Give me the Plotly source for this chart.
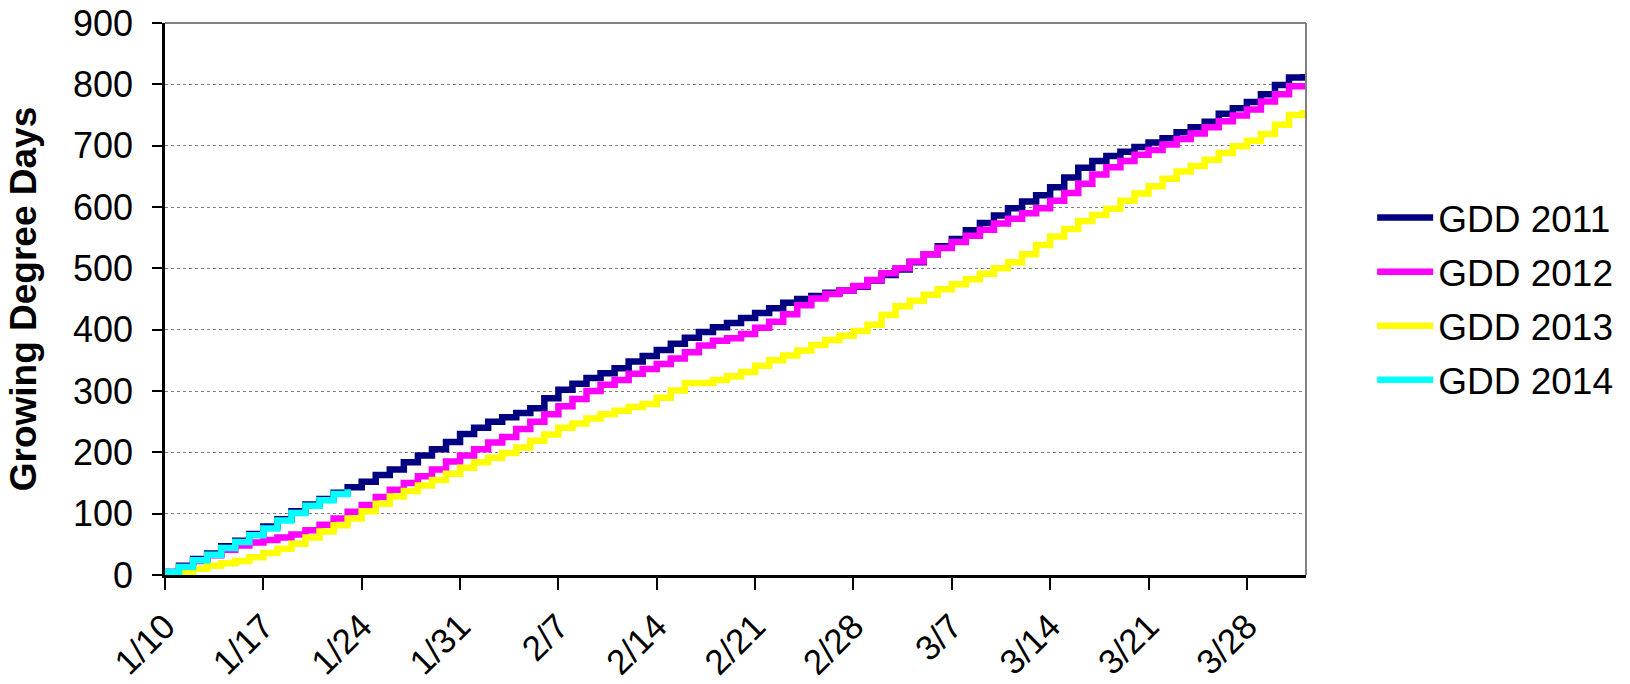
import pandas as pd
import plotly.graph_objects as go

# Daily cumulative GDD, starting 1/10
gdd_2011 = [5, 15, 26, 35, 47, 56, 67, 79, 91, 104, 115, 124, 134, 143, 152, 163, 172, 184, 195, 205,
            217, 230, 240, 250, 257, 264, 272, 288, 302, 312, 321, 329, 337, 348, 357, 367, 377, 387, 396, 404,
            411, 419, 427, 435, 444, 450, 455, 460, 464, 470, 480, 489, 498, 510, 523, 536, 548, 562, 574, 586,
            598, 609, 619, 632, 648, 664, 675, 683, 690, 698, 705, 712, 722, 730, 739, 752, 761, 771, 784, 799,
            811, 817]
gdd_2012 = [5, 13, 23, 32, 41, 48, 53, 57, 61, 66, 73, 82, 92, 103, 114, 127, 139, 150, 161, 172,
            185, 195, 205, 216, 225, 238, 250, 262, 275, 287, 300, 310, 318, 328, 336, 344, 353, 363, 374, 382,
            386, 393, 403, 413, 425, 440, 451, 458, 464, 471, 481, 492, 500, 511, 523, 533, 543, 553, 563, 573,
            581, 590, 598, 610, 623, 638, 653, 665, 675, 685, 693, 702, 711, 720, 730, 740, 749, 759, 772, 784,
            797, 802]
gdd_2013 = [0, 3, 10, 15, 19, 23, 29, 36, 43, 51, 61, 71, 81, 92, 104, 116, 128, 137, 146, 155,
            165, 175, 184, 191, 199, 208, 219, 229, 240, 247, 255, 262, 268, 274, 279, 289, 301, 313, 313, 318,
            324, 331, 341, 350, 358, 366, 375, 383, 390, 398, 408, 424, 438, 447, 457, 466, 474, 482, 491, 500,
            510, 523, 538, 552, 564, 577, 587, 597, 610, 622, 634, 646, 658, 667, 677, 688, 699, 708, 719, 734,
            750, 758]
gdd_2014 = [5, 13, 24, 33, 44, 54, 65, 76, 89, 101, 113, 122, 132, 140]

series_names = ["GDD 2011", "GDD 2012", "GDD 2013", "GDD 2014"]
series_colors = ["#000080", "#FF00FF", "#FFFF00", "#00FFFF"]
tick_labels = ["1/10", "1/17", "1/24", "1/31", "2/7", "2/14", "2/21", "2/28", "3/7", "3/14", "3/21", "3/28"]

dates = pd.date_range("2011-01-10", periods=len(gdd_2011), freq="D")
tick_dates = pd.date_range("2011-01-10", periods=len(tick_labels), freq="7D")

fig = go.Figure()
for name, vals, col in zip(series_names, [gdd_2011, gdd_2012, gdd_2013, gdd_2014], series_colors):
    fig.add_trace(go.Scatter(
        x=dates[:len(vals)], y=vals, mode="lines", name=name,
        line=dict(color=col, width=6.5, shape="hv"),
        legendgroup=name,
    ))

font_family = "Arial, Liberation Sans, sans-serif"
fig.update_layout(
    width=1630, height=684,
    margin=dict(l=165, r=321, t=23, b=109),
    paper_bgcolor="white", plot_bgcolor="white",
    font=dict(family=font_family, color="black"),
    legend=dict(x=1.058, xanchor="left", y=0.5, yanchor="middle",
                font=dict(size=37, family=font_family), tracegroupgap=3,
                itemwidth=56, bgcolor="rgba(0,0,0,0)"),
    showlegend=True,
)
fig.update_xaxes(
    type="date", automargin=False, ticklabeloverflow="allow",
    range=["2011-01-10", "2011-04-01 05:00"],
    tickvals=tick_dates, ticktext=tick_labels, tickangle=-45,
    tickfont=dict(size=35), ticks="outside", ticklen=12, tickwidth=2, tickcolor="black",
    ticklabelstandoff=2,
    showline=True, linecolor="black", linewidth=2.5, showgrid=False, zeroline=False,
)
fig.update_yaxes(
    range=[0, 900], dtick=100, tick0=0, automargin=False, ticklabeloverflow="allow",
    tickfont=dict(size=36), ticks="outside", ticklen=10, tickwidth=2, tickcolor="black",
    ticklabelstandoff=12,
    showline=True, linecolor="black", linewidth=2.5,
    showgrid=True, gridcolor="#808080", gridwidth=1, griddash="dot", zeroline=False,
    title=dict(text="<b>Growing Degree Days</b>", font=dict(size=37), standoff=26),
)
# Plot-area border on top and right (gray)
fig.add_shape(type="line", xref="paper", yref="paper", x0=0, x1=1, y0=1, y1=1,
              line=dict(color="#808080", width=2))
fig.add_shape(type="line", xref="paper", yref="paper", x0=1, x1=1, y0=0, y1=1,
              line=dict(color="#808080", width=2))

fig.write_html("out.html", config={"displayModeBar": False},
               post_script="document.body.style.margin='0';document.body.style.overflow='hidden';")
